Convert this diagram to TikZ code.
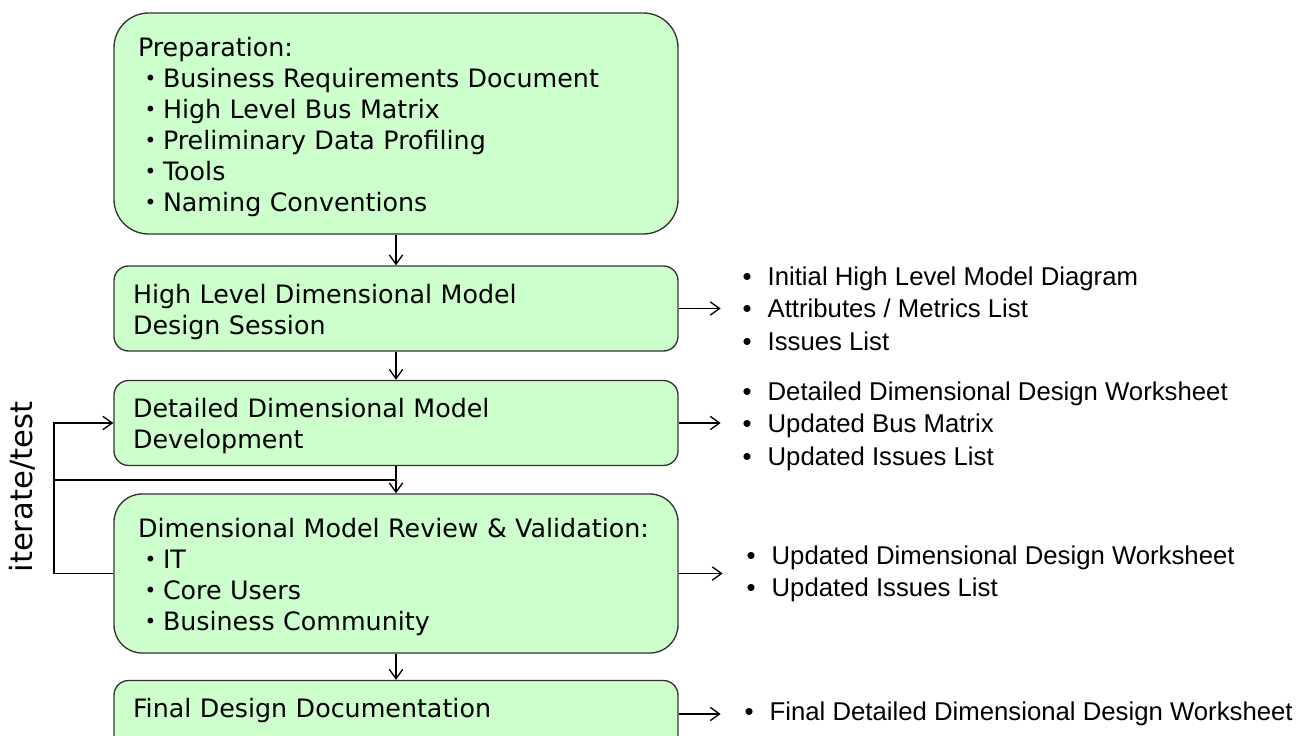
\documentclass[tikz,border=0pt]{standalone}
\usepackage{fontspec}
\setmainfont{DejaVu Sans}
\newfontfamily\listfont{Liberation Sans}
\usetikzlibrary{positioning, arrows.meta}

\definecolor{boxgreen}{HTML}{CCFFCC}
\newcommand{\bul}{\hspace*{5pt}\makebox[13.75pt][l]{\raisebox{1pt}{\fontsize{15}{15}\selectfont\textbullet}}}
\newcommand{\obul}{\makebox[18.75pt][l]{\textbullet}}
\newcommand{\tgap}{\rule{0pt}{19pt}}

\begin{document}
\begin{tikzpicture}[x=0.75pt, y=-0.75pt, line width=1pt,
  >={Straight Barb[length=7pt,width=10pt]},
  box/.style = {draw=black!80, fill=boxgreen, minimum width=423pt, align=left,
    text width=394.5pt, inner sep=0pt, font=\fontsize{19}{23.25}\selectfont},
  wide/.style = {text width=387pt},
  outlist/.style = {anchor=west, align=left, inner sep=0pt,
    font=\listfont\fontsize{19.3}{24.4}\selectfont}]
\useasboundingbox (0,0) rectangle (1301,735);

\node[box, wide, minimum height=165.75pt, rounded corners=26pt] (prep) at (396,123.5) {\tgap Preparation:\\
\bul Business Requirements Document\\
\bul High Level Bus Matrix\\
\bul Preliminary Data Profiling\\
\bul Tools\\
\bul Naming Conventions};
\node[box, minimum height=63.75pt, rounded corners=11pt] (hlds) at (396,308.5) {\tgap High Level Dimensional Model\\Design Session};
\node[box, minimum height=63.75pt, rounded corners=11pt] (ddmd) at (396,423) {\tgap Detailed Dimensional Model\\Development};
\node[box, wide, minimum height=119.25pt, rounded corners=21pt] (review) at (396,573.5) {\tgap Dimensional Model Review \& Validation:\\
\bul IT\\
\bul Core Users\\
\bul Business Community};
\node[box, minimum height=63.75pt, rounded corners=11pt] (final) at (396,723) {Final Design Documentation\\\mbox{}};

\node[outlist] (hldsout) at (742,308.5) {\obul Initial High Level Model Diagram\\
\obul Attributes / Metrics List\\
\obul Issues List};
\node[outlist] (ddmdout) at (742,426) {\obul Detailed Dimensional Design Worksheet\\
\obul Updated Bus Matrix\\
\obul Updated Issues List};
\node[outlist] (reviewout) at (746,574) {\obul Updated Dimensional Design Worksheet\\
\obul Updated Issues List};
\node[outlist] (finalout) at (744,714) {\obul Final Detailed Dimensional Design Worksheet};

\node[rotate=90, font=\fontsize{23}{27}\selectfont] (iter) at (22,487) {iterate/test};

\draw[->] (prep) -- (hlds);
\draw[->] (hlds) -- (ddmd);
\draw[->] (ddmd) -- (review);
\draw[->] (review) -- (final);

\draw[->] (hlds.east) -- ++(42,0);
\draw[->] (ddmd.east) -- ++(42,0);
\draw[->] (review.east) -- ++(44,0);
\draw[->] (final.east |- finalout.west) -- ++(42,0);

% loop back from the review
\coordinate (back) at (54,480);
\coordinate (join) at (396,480);
\draw[->] (review.west) -| (back) |- (ddmd.west);
\draw (back) -- (join);
\end{tikzpicture}
\end{document}
